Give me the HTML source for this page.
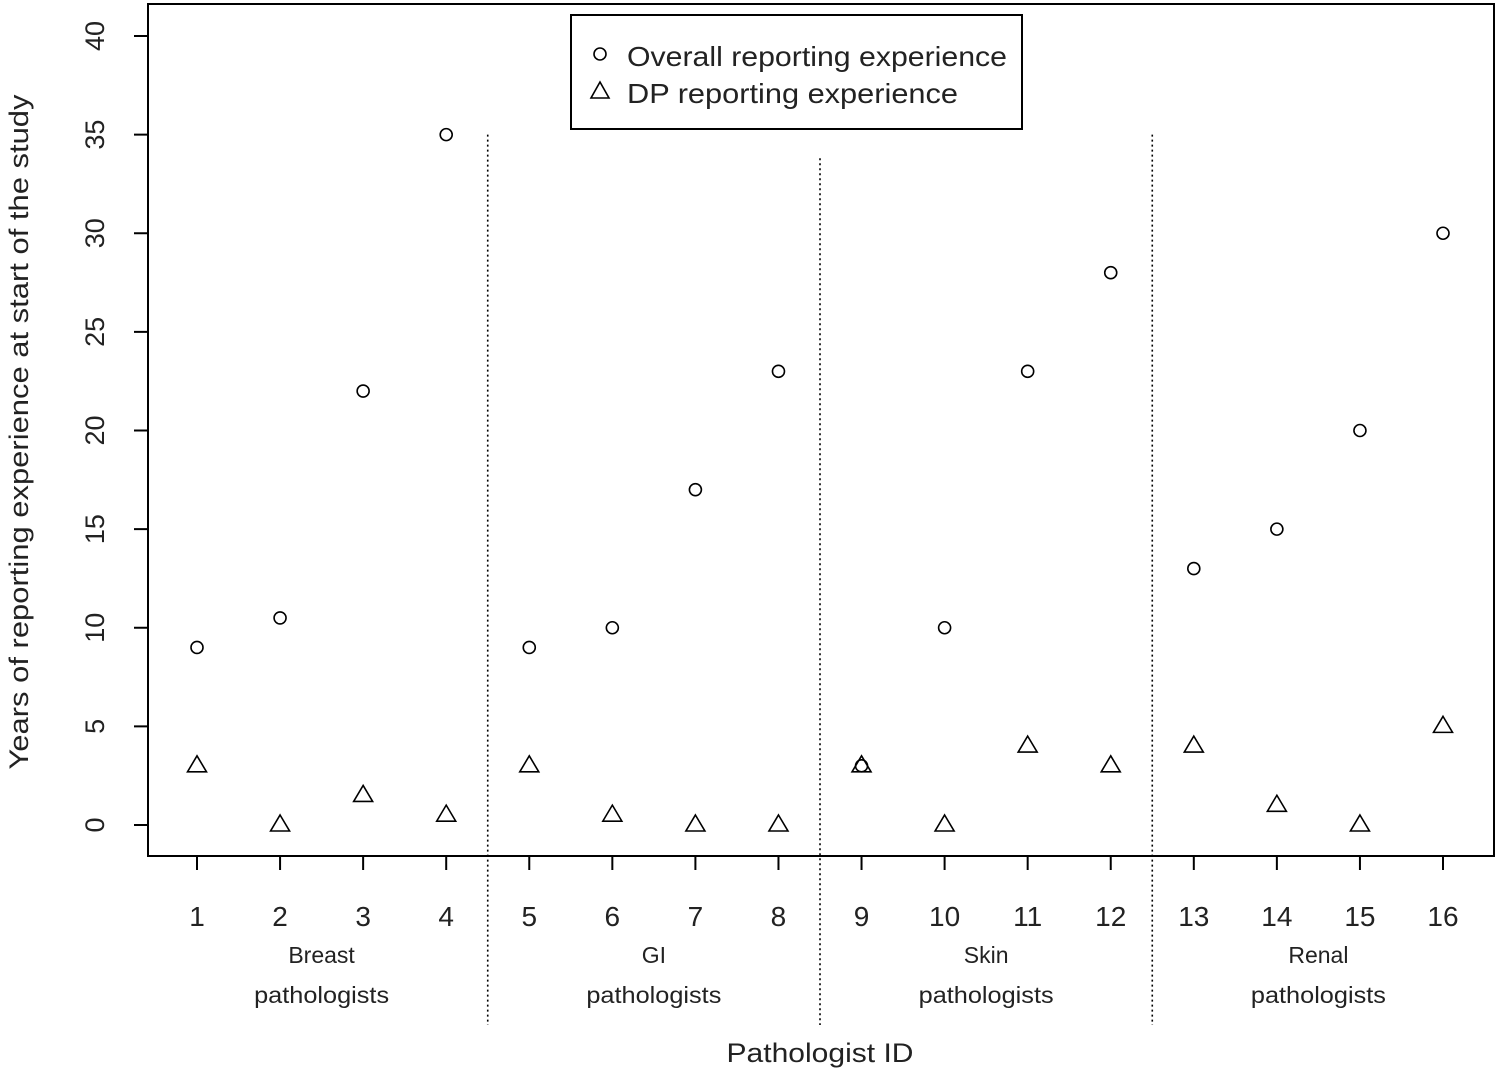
<!DOCTYPE html>
<html><head><meta charset="utf-8"><style>
html,body{margin:0;padding:0;background:#fff}
svg{display:block;font-family:"Liberation Sans",sans-serif}
</style></head><body>
<svg id="chart" width="1498" height="1074" viewBox="0 0 1498 1074">
<rect x="148" y="4" width="1346" height="852" fill="none" stroke="#000" stroke-width="2"/>
<g id="yaxis"></g>
<g id="xaxis"></g>
<g id="marks"></g>
<text transform="translate(28,432) rotate(-90)" text-anchor="middle" font-size="27" fill="#222" textLength="675" lengthAdjust="spacingAndGlyphs">Years of reporting experience at start of the study</text>
<text x="820" y="1062" text-anchor="middle" font-size="27" fill="#222" textLength="187" lengthAdjust="spacingAndGlyphs">Pathologist ID</text>
<g>
<rect x="571" y="15" width="451" height="114" fill="#fff" stroke="#000" stroke-width="2"/>
<circle cx="600" cy="54" r="6" fill="none" stroke="#000" stroke-width="1.6"/>
<text x="627" y="66" font-size="28" fill="#222" textLength="380" lengthAdjust="spacingAndGlyphs">Overall reporting experience</text>
<path d="M600 82 L609 98 L591 98 Z" fill="none" stroke="#000" stroke-width="1.6"/>
<text x="627" y="103" font-size="28" fill="#222" textLength="331" lengthAdjust="spacingAndGlyphs">DP reporting experience</text>
</g>
</svg>
<script>
const ids=[1,2,3,4,5,6,7,8,9,10,11,12,13,14,15,16];
const overall=[9,10.5,22,35,9,10,17,23,3,10,23,28,13,15,20,30];
const dp=[3,0,1.5,0.5,3,0.5,0,0,3,0,4,3,4,1,0,5];
const yTicks=[0,5,10,15,20,25,30,35,40];
const groups=["Breast","GI","Skin","Renal"];
const dividers=[4.5,8.5,12.5];
const dividerTops=[35,33.8,35];
const NS="http://www.w3.org/2000/svg";
const X=v=>197+(v-1)*83.067;
const Y=v=>825-v*19.725;
function mk(tag,attrs,parent,text){const e=document.createElementNS(NS,tag);for(const k in attrs)e.setAttribute(k,attrs[k]);if(text!==undefined)e.textContent=text;parent.appendChild(e);return e;}
const ya=document.getElementById('yaxis'),xa=document.getElementById('xaxis'),mg=document.getElementById('marks');
mk('line',{x1:148,x2:148,y1:Y(0),y2:Y(40),stroke:'#000','stroke-width':2},ya);
yTicks.forEach(t=>{
 const l=mk('line',{x1:134,x2:148,y1:Y(t),y2:Y(t),stroke:'#000','stroke-width':2},ya);
 
 
 const tx=mk('text',{transform:`translate(104,${Y(t)}) rotate(-90)`,'text-anchor':'middle','font-size':27,fill:'#222'},ya,String(t));
 
 
});
mk('line',{x1:X(1),x2:X(16),y1:856,y2:856,stroke:'#000','stroke-width':2},xa);
ids.forEach(i=>{
 const l=mk('line',{x1:X(i),x2:X(i),y1:856,y2:870,stroke:'#000','stroke-width':2},xa);
 
 
 const tx=mk('text',{x:X(i),y:926,'text-anchor':'middle','font-size':28,fill:'#222'},xa,String(i));
 
 
});
groups.forEach((g,k)=>{
 const cx=(X(k*4+1)+X(k*4+4))/2;
 const a=mk('text',{x:cx,y:963,'text-anchor':'middle','font-size':23,fill:'#222'},xa,g);
 
 
 const b=mk('text',{x:cx,y:1003,'text-anchor':'middle','font-size':23,fill:'#222',textLength:135,lengthAdjust:'spacingAndGlyphs'},xa,'pathologists');
 
 
});
dividers.forEach((d,k)=>{
 const l=mk('line',{x1:X(d),x2:X(d),y1:Y(dividerTops[k]),y2:1025,stroke:'#000','stroke-width':1.6,'stroke-dasharray':'2,3'},xa);
 
 
});
ids.forEach((id,i)=>{
 const c=mk('circle',{cx:X(id),cy:Y(overall[i]),r:6,fill:'none',stroke:'#000','stroke-width':1.6},mg);
 
 
 const x=X(id),y=Y(dp[i]);
 const p=mk('path',{d:`M${x} ${y-10} L${x+9.5} ${y+6} L${x-9.5} ${y+6} Z`,fill:'none',stroke:'#000','stroke-width':1.6},mg);
 
 
});
</script>
</body></html>
